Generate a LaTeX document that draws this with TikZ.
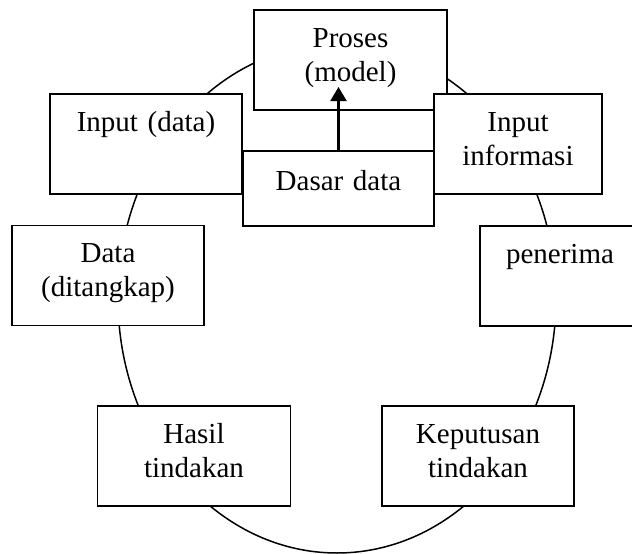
\documentclass[tikz,border=0pt]{standalone}
\usepackage{fontspec}
\setmainfont{Liberation Serif}
\usetikzlibrary{arrows.meta}

\begin{document}
\begin{tikzpicture}[x=1pt, y=-1pt,
    font=\fontsize{29}{34}\selectfont,
    kotak/.style={draw, fill=white, line width=1.5pt, inner sep=0pt, align=center,
      text width=#1, minimum height=100pt, text height=37pt, text depth=63pt},
    kotak/.default=192pt]
    \useasboundingbox (0,0) rectangle (632,554);
    \clip (0,0) rectangle (632,554);

    % lingkaran siklus
    \draw[line width=1.5pt] (337,298.6) ellipse [x radius=219pt, y radius=254.4pt];

    \node (P) [kotak=193pt] at (350.5,60) {Proses\\(model)};
    \node (II) [kotak=168pt] at (518,144) {Input\\informasi};
    \node (ID) [kotak] at (146,144) {Input (data)};
    \node (DD) [kotak=191pt, minimum height=75pt, text height=39pt, text depth=36pt] at (338.5,188.5) {Dasar data};
    \node (DT) [kotak] at (108,275.5) {Data\\(ditangkap)};
    \node (PN) [kotak=160pt] at (560,276) {penerima};
    \node (HT) [kotak=193pt] at (194,456) {Hasil\\tindakan};
    \node (KT) [kotak] at (478,456) {Keputusan\\tindakan};

    \coordinate (ujung) at (DD.north |- 0,87);
    \draw[-{Triangle[width=16pt, length=14pt]}, line width=2.2pt] (DD.north) -- (ujung);
\end{tikzpicture}
\end{document}
